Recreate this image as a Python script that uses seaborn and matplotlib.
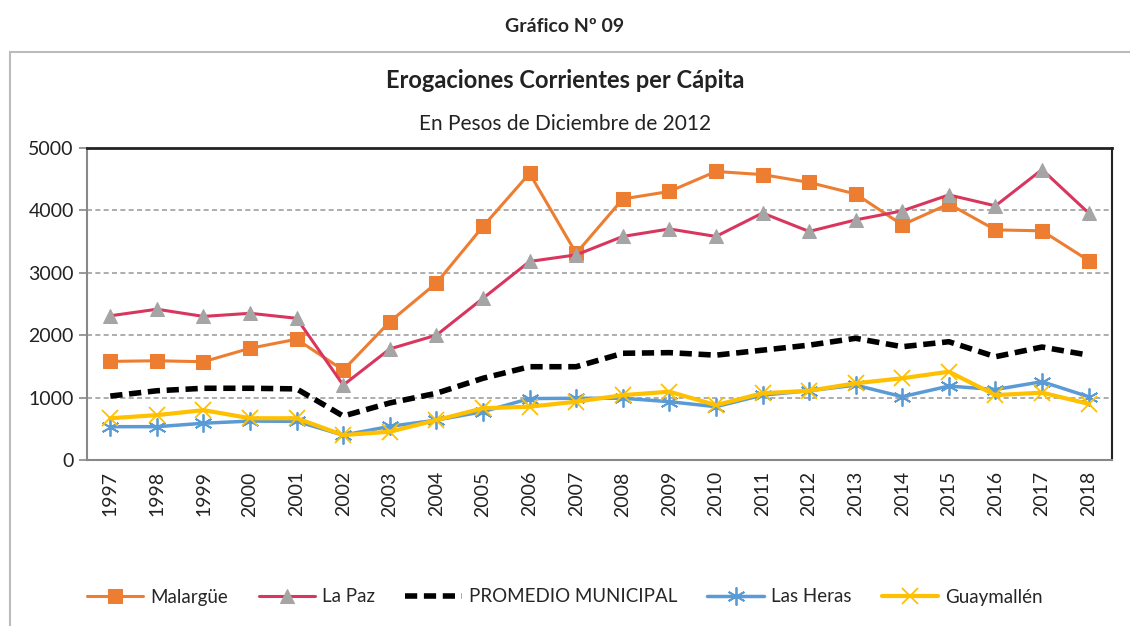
import numpy as np
import pandas as pd
import matplotlib
matplotlib.use("Agg")
import matplotlib.pyplot as plt
import seaborn as sns

# Data
years = [str(y) for y in range(1997, 2019)]
malargue = [1580, 1590, 1575, 1790, 1935, 1440, 2215, 2835, 3740, 4590, 3310,
            4180, 4300, 4620, 4570, 4445, 4260, 3765, 4100, 3685, 3670, 3195]
la_paz = [2310, 2415, 2300, 2350, 2270, 1200, 1780, 2000, 2590, 3180, 3285,
          3580, 3700, 3580, 3955, 3660, 3845, 3990, 4245, 4070, 4650, 3955]
promedio = [1025, 1110, 1150, 1150, 1140, 705, 915, 1070, 1310, 1495, 1495,
            1710, 1720, 1680, 1760, 1840, 1950, 1815, 1895, 1655, 1810, 1680]
las_heras = [535, 535, 590, 625, 620, 400, 540, 640, 775, 985, 990,
             990, 935, 855, 1040, 1110, 1200, 1015, 1185, 1130, 1255, 1015]
guaymallen = [670, 720, 800, 670, 670, 400, 455, 640, 830, 855, 935,
              1040, 1095, 880, 1070, 1110, 1230, 1310, 1415, 1040, 1080, 900]

sns.set_style("white")
plt.rcParams['font.family'] = ['Lato', 'DejaVu Sans']

fig = plt.figure(figsize=(11.3, 6.26), dpi=100)
ax = fig.add_axes([0.077, 0.265, 0.907, 0.499])

x = np.arange(len(years))
series = [
    ("Malargüe", malargue, dict(color="#ED7D31", marker="s", markersize=10,
                                markerfacecolor="#ED7D31", markeredgecolor="#ED7D31", lw=2.2)),
    ("La Paz", la_paz, dict(color="#D9365F", marker="^", markersize=10,
                            markerfacecolor="#A5A5A5", markeredgecolor="#A5A5A5", lw=2.2)),
    ("PROMEDIO MUNICIPAL", promedio, dict(color="black", lw=4, dashes=(2.2, 1.2))),
    ("Las Heras", las_heras, dict(color="#5B9BD5", marker=(6, 2, 0), markersize=13,
                                  markeredgecolor="#5B9BD5", markeredgewidth=1.3, lw=2.5)),
    ("Guaymallén", guaymallen, dict(color="#FFC000", marker="x", markersize=11,
                                    markeredgecolor="#FFC000", markeredgewidth=1.3, lw=3)),
]
for name, vals, kw in series:
    df = pd.DataFrame({"x": x, "v": vals})
    sns.lineplot(data=df, x="x", y="v", ax=ax, label=name, **kw)

ax.set_xlim(-0.5, len(years) - 0.5)
ax.set_ylim(0, 5000)
ax.set_yticks([0, 1000, 2000, 3000, 4000, 5000])
ax.set_xticks(x)
ax.set_xticklabels(years, rotation=90, fontsize=14, color="#222222")
ax.set_xticks(np.arange(-0.5, len(years), 1), minor=True)
ax.tick_params(axis="x", which="major", length=0, pad=8)
ax.tick_params(axis="x", which="minor", length=7, color="#888888", width=1.2, direction="out")
ax.tick_params(axis="y", labelsize=14, length=6, color="#888888", width=1.2, direction="out",
               labelcolor="#222222", left=True)
ax.set_xlabel("")
ax.set_ylabel("")
for yv in [1000, 2000, 3000, 4000]:
    ax.axhline(yv, color="#A0A0A0", lw=1.2, ls=(0, (3, 2)), zorder=0)
ax.spines["top"].set_color("#222222")
ax.spines["top"].set_linewidth(2)
ax.spines["right"].set_color("#222222")
ax.spines["right"].set_linewidth(1.5)
ax.spines["left"].set_color("#888888")
ax.spines["left"].set_linewidth(1.5)
ax.spines["bottom"].set_color("#888888")
ax.spines["bottom"].set_linewidth(1.5)

leg = ax.legend(loc="center", ncol=5, frameon=False, fontsize=13.5, handlelength=3,
                columnspacing=1.6, handletextpad=0.4)
leg.set_bbox_to_anchor((0.5, 1 - 597 / 626), transform=fig.transFigure)

fig.text(0.5, 1 - 27 / 626, "Gráfico Nº 09", ha="center", va="center",
         fontsize=14, fontweight="bold")
fig.text(0.5, 1 - 80 / 626, "Erogaciones Corrientes per Cápita", ha="center", va="center",
         fontsize=17, fontweight="bold", color="#222222")
fig.text(0.5, 1 - 124 / 626, "En Pesos de Diciembre de 2012", ha="center", va="center",
         fontsize=15, color="#222222")

border = plt.Rectangle((10 / 1130, -0.01), 1.1, 1 - 52 / 626 + 0.01, transform=fig.transFigure,
                       fill=False, edgecolor="#BBBBBB", lw=1.5)
fig.patches.append(border)

fig.savefig("out.png", dpi=100)
